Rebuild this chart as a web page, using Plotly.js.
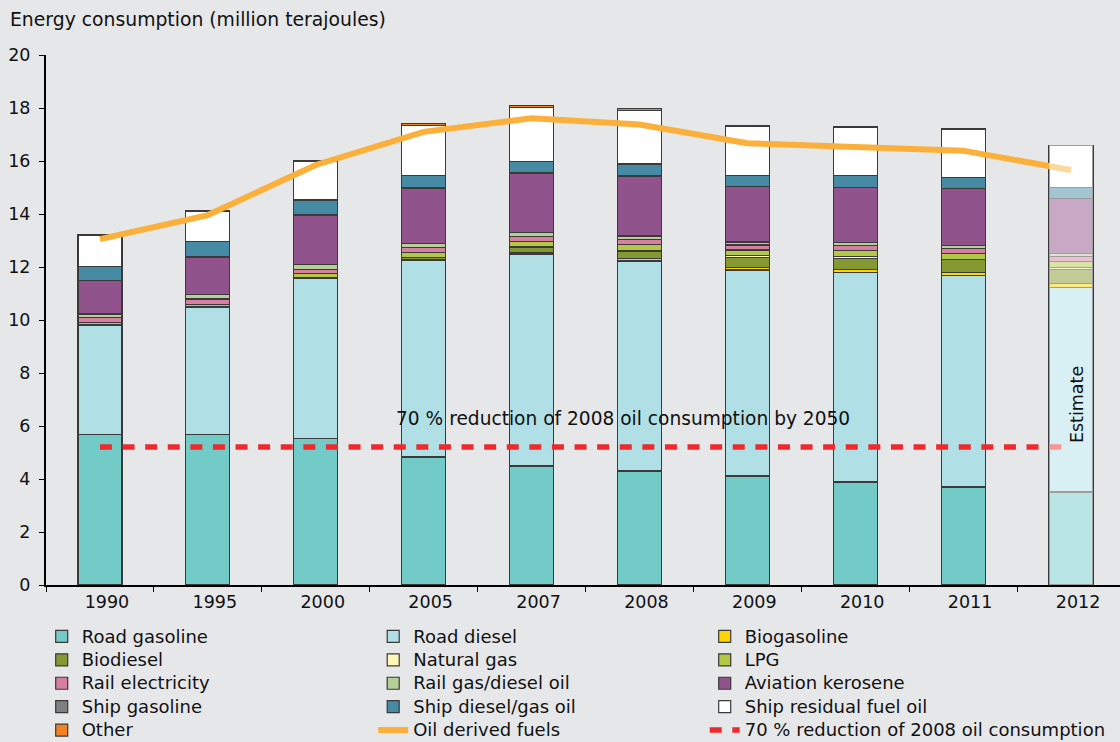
<!DOCTYPE html>
<html>
<head>
<meta charset="utf-8">
<script src="https://cdn.plot.ly/plotly-3.0.1.min.js"></script>
<style>
html,body{margin:0;padding:0;background:#e6e7e9;}
#chart{width:1120px;height:742px;}
#chart .legend .legendtext{font-size:18px !important;}
#chart .legend .scrollbox{clip-path:none !important;}
</style>
</head>
<body>
<div id="chart"></div>
<script>
// ---- Data (million terajoules) ----
const years = ['1990','1995','2000','2005','2007','2008','2009','2010','2011','2012'];

const roadGasoline   = [5.69, 5.69, 5.53, 4.83, 4.49, 4.30, 4.11, 3.89, 3.70, 3.51];
const roadDiesel     = [4.12, 4.79, 6.05, 7.41, 8.00, 7.93, 7.78, 7.91, 7.97, 7.72];
const biogasoline    = [0.00, 0.00, 0.00, 0.04, 0.05, 0.10, 0.10, 0.11, 0.13, 0.15];
const biodiesel      = [0.01, 0.01, 0.01, 0.07, 0.21, 0.26, 0.38, 0.42, 0.47, 0.54];
const naturalGas     = [0.01, 0.01, 0.01, 0.01, 0.01, 0.03, 0.05, 0.07, 0.02, 0.05];
const lpg            = [0.07, 0.10, 0.14, 0.19, 0.20, 0.23, 0.22, 0.23, 0.23, 0.23];
const railElectric   = [0.18, 0.19, 0.18, 0.20, 0.19, 0.19, 0.19, 0.18, 0.19, 0.19];
const railGasDiesel  = [0.15, 0.16, 0.17, 0.14, 0.15, 0.13, 0.11, 0.12, 0.11, 0.13];
const aviationKero   = [1.25, 1.42, 1.87, 2.08, 2.24, 2.26, 2.09, 2.06, 2.14, 2.07];
const shipGasoline   = [0.01, 0.01, 0.01, 0.01, 0.01, 0.01, 0.01, 0.01, 0.01, 0.01];
const shipDieselGas  = [0.53, 0.58, 0.56, 0.48, 0.44, 0.45, 0.42, 0.46, 0.41, 0.39];
const shipResidual   = [1.19, 1.15, 1.45, 1.89, 2.04, 2.02, 1.83, 1.81, 1.80, 1.61];
const other          = [0.02, 0.02, 0.03, 0.07, 0.07, 0.08, 0.03, 0.03, 0.03, 0.00];

const oilDerived     = [13.05, 13.96, 15.85, 17.10, 17.61, 17.38, 16.67, 16.54, 16.39, 15.66];
const target2050     = [5.21, 5.21, 5.21, 5.21, 5.21, 5.21, 5.21, 5.21, 5.21, 5.21];

const estimateYear = years[years.length - 1];

// ---- Series definitions ----
const series = [
  {name: 'Road gasoline',          y: roadGasoline,  color: '#73cbc8'},
  {name: 'Road diesel',            y: roadDiesel,    color: '#b0e0e6'},
  {name: 'Biogasoline',            y: biogasoline,   color: '#ffd400'},
  {name: 'Biodiesel',              y: biodiesel,     color: '#859933'},
  {name: 'Natural gas',            y: naturalGas,    color: '#fff7b5'},
  {name: 'LPG',                    y: lpg,           color: '#b3c945'},
  {name: 'Rail electricity',       y: railElectric,  color: '#d67fa0'},
  {name: 'Rail gas/diesel oil',    y: railGasDiesel, color: '#b5cf98'},
  {name: 'Aviation kerosene',      y: aviationKero,  color: '#91538b'},
  {name: 'Ship gasoline',          y: shipGasoline,  color: '#808080'},
  {name: 'Ship diesel/gas oil',    y: shipDieselGas, color: '#468ba3'},
  {name: 'Ship residual fuel oil', y: shipResidual,  color: '#ffffff'},
  {name: 'Other',                  y: other,         color: '#f28224'}
];

const traces = series.map(s => ({
  type: 'bar', name: s.name, x: years, y: s.y,
  marker: {color: s.color, line: {color: '#3a3a3a', width: 1.2}},
  hoverinfo: 'name+y'
}));

traces.push({
  type: 'scatter', mode: 'lines', name: 'Oil derived fuels', x: years, y: oilDerived,
  line: {color: '#fbb03b', width: 6}
});
traces.push({
  type: 'scatter', mode: 'lines', name: '70 % reduction of 2008 oil consumption', x: years, y: target2050,
  line: {color: '#ee2a2e', width: 5.5, dash: '12px,10.6px'}
});

// Veil over the estimated year (overlay subplot so it sits above the lines)
const idx = years.length - 1;
const estTotal = series.reduce((a, s) => a + s.y[idx], 0);
traces.push({
  type: 'bar', x: [estimateYear], y: [estTotal], xaxis: 'x2', yaxis: 'y2',
  marker: {color: 'rgba(255,255,255,0.5)', line: {width: 0}},
  showlegend: false, hoverinfo: 'skip'
});

const fontFam = 'Verdana, "DejaVu Sans", sans-serif';
const xRange = [-0.5, 9.454];
const estPaperX = (idx - xRange[0]) / (xRange[1] - xRange[0]);

const layout = {
  width: 1120, height: 742,
  paper_bgcolor: '#e6e7e9', plot_bgcolor: '#e6e7e9',
  margin: {l: 46, r: 0, t: 55, b: 157, autoexpand: false},
  barmode: 'stack', bargap: 0.592,
  font: {family: fontFam, size: 17, color: '#111'},
  title: {
    text: 'Energy consumption (million terajoules)',
    xref: 'container', yref: 'container', x: 10/1120, xanchor: 'left',
    y: 1 - 19/742, yanchor: 'middle',
    font: {family: fontFam, size: 18.8, color: '#111'}
  },
  xaxis: {
    type: 'category', categoryorder: 'array', categoryarray: years,
    range: xRange, showline: true, linecolor: '#000', linewidth: 2,
    ticks: 'outside', tickson: 'boundaries', ticklen: 5, tickcolor: '#000', tickwidth: 1,
    ticklabelshift: 7, showgrid: false, zeroline: false,
    tickfont: {size: 17.5}
  },
  yaxis: {
    range: [0, 20], dtick: 2, showline: true, linecolor: '#000', linewidth: 2,
    ticks: 'outside', ticklen: 5, tickcolor: '#000', tickwidth: 1,
    showgrid: false, zeroline: false, ticklabelstandoff: 5,
    tickfont: {size: 17.5}
  },
  xaxis2: {
    type: 'category', categoryorder: 'array', categoryarray: years,
    range: xRange, overlaying: 'x', visible: false
  },
  yaxis2: {range: [0, 20], overlaying: 'y', visible: false},
  legend: {
    orientation: 'h', traceorder: 'normal',
    x: -0.004, xanchor: 'left', y: -0.0655, yanchor: 'top',
    entrywidth: 286.5, entrywidthmode: 'pixels',
    font: {family: fontFam, size: 15.7, color: '#111'},
    bgcolor: 'rgba(0,0,0,0)', itemwidth: 30
  },
  annotations: [
    {
      text: '70 % reduction of 2008 oil consumption by 2050',
      xref: 'paper', yref: 'paper', x: 0.537, y: 6.30 / 20, xanchor: 'center', yanchor: 'middle',
      showarrow: false, font: {family: fontFam, size: 18.6, color: '#111'}
    },
    {
      text: 'Estimate', textangle: -90,
      xref: 'paper', yref: 'paper', x: estPaperX, xshift: 6, y: 6.79 / 20, xanchor: 'center', yanchor: 'middle',
      showarrow: false, font: {family: fontFam, size: 17.5, color: '#111'}
    }
  ],
  showlegend: true
};

Plotly.newPlot('chart', traces, layout, {displayModeBar: false, staticPlot: true});
</script>
</body>
</html>
